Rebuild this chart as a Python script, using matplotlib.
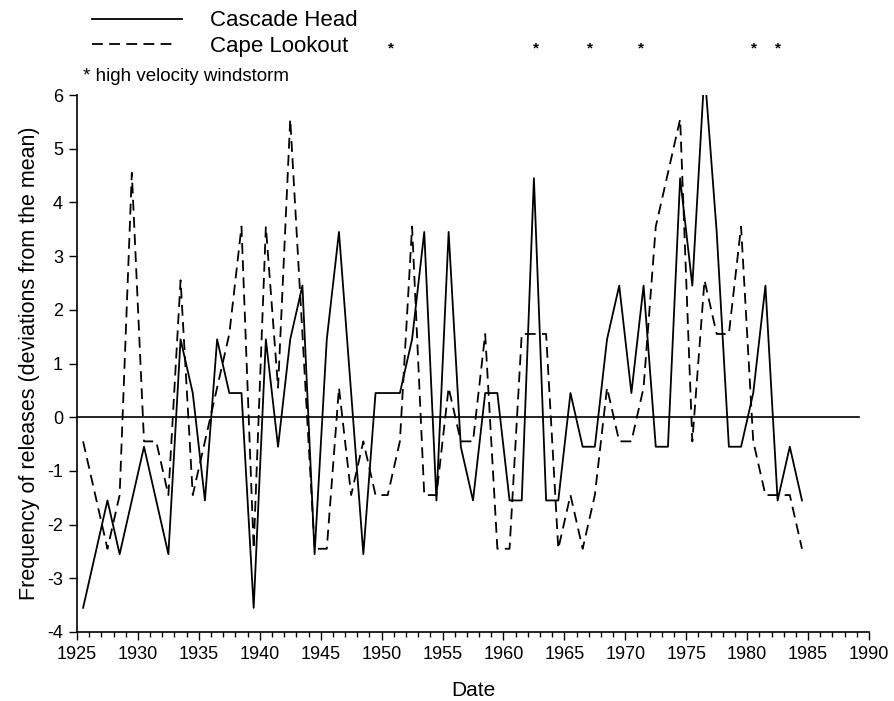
import matplotlib
matplotlib.use("Agg")
import matplotlib.pyplot as plt
import matplotlib.transforms as mtransforms
from matplotlib.lines import Line2D
import numpy as np

plt.rcParams['font.family'] = ['Liberation Sans', 'DejaVu Sans']
plt.rcParams['axes.unicode_minus'] = False

# annual release frequencies, deviations from the mean
years = np.arange(1925, 1985)
cascade_head = [-3.55, -2.55, -1.55, -2.55, -1.55, -0.55, -1.55, -2.55, 1.45, 0.45,
                -1.55, 1.45, 0.45, 0.45, -3.55, 1.45, -0.55, 1.45, 2.45, -2.55,
                1.45, 3.45, 0.45, -2.55, 0.45, 0.45, 0.45, 1.45, 3.45, -1.55,
                3.45, -0.55, -1.55, 0.45, 0.45, -1.55, -1.55, 4.45, -1.55, -1.55,
                0.45, -0.55, -0.55, 1.45, 2.45, 0.45, 2.45, -0.55, -0.55, 4.45,
                2.45, 6.45, 3.45, -0.55, -0.55, 0.45, 2.45, -1.55, -0.55, -1.55]
cape_lookout = [-0.45, -1.45, -2.45, -1.45, 4.55, -0.45, -0.45, -1.45, 2.55, -1.45,
                -0.45, 0.55, 1.55, 3.55, -2.45, 3.55, 0.55, 5.55, 1.55, -2.45,
                -2.45, 0.55, -1.45, -0.45, -1.45, -1.45, -0.45, 3.55, -1.45, -1.45,
                0.55, -0.45, -0.45, 1.55, -2.45, -2.45, 1.55, 1.55, 1.55, -2.45,
                -1.45, -2.45, -1.45, 0.55, -0.45, -0.45, 0.55, 3.55, 4.55, 5.55,
                -0.45, 2.55, 1.55, 1.55, 3.55, -0.45, -1.45, -1.45, -1.45, -2.45]
# dates of high velocity windstorms
storm_dates = [1950.8, 1962.7, 1967.1, 1971.3, 1980.6, 1982.5]

x = years + 0.5  # plot each year at mid-year

fig = plt.figure(figsize=(8.94, 7.01), dpi=100)
ax = fig.add_axes([77 / 894, 69 / 701, 792 / 894, 537 / 701])

ax.plot(x, cascade_head, color='black', lw=1.3)
ax.plot(x, cape_lookout, color='black', lw=1.3, linestyle=(0, (6, 3.5)))
ax.axhline(0, xmin=0, xmax=0.988, color='black', lw=1.2)

ax.set_xlim(1925, 1990)
ax.set_ylim(-4, 6)
ax.set_xticks(range(1925, 1991, 5))
ax.set_xticks(range(1925, 1991), minor=True)
ax.set_yticks(range(-4, 7))
ax.tick_params(axis='both', which='major', direction='out', length=6, width=1,
               labelsize=13, pad=4)
ax.tick_params(axis='x', which='minor', direction='out', length=3.5, width=1)
for side in ['top', 'right']:
    ax.spines[side].set_visible(False)
for side in ['left', 'bottom']:
    ax.spines[side].set_linewidth(1.2)

ax.set_xlabel('Date', fontsize=15, labelpad=13)
ax.set_ylabel('Frequency of releases (deviations from the mean)', fontsize=15.5,
              labelpad=5)

# key at the top
fig.add_artist(Line2D([92 / 894, 182 / 894], [1 - 19 / 701] * 2, color='black',
                      lw=1.3, transform=fig.transFigure))
fig.add_artist(Line2D([92 / 894, 176 / 894], [1 - 44 / 701] * 2, color='black',
                      lw=1.3, linestyle=(0, (6, 3.5)), transform=fig.transFigure))
fig.text(210 / 894, 1 - 26 / 701, 'Cascade Head', fontsize=16, va='baseline')
fig.text(210 / 894, 1 - 52 / 701, 'Cape Lookout', fontsize=16, va='baseline')
fig.text(83 / 894, 1 - 81 / 701, '* high velocity windstorm', fontsize=13.5,
         va='baseline')

trans = mtransforms.blended_transform_factory(ax.transData, fig.transFigure)
for d in storm_dates:
    ax.text(d, 1 - 52 / 701, '*', fontsize=11, fontweight='bold', ha='center',
            va='baseline', transform=trans, clip_on=False)

fig.savefig('out.png', dpi=100)
